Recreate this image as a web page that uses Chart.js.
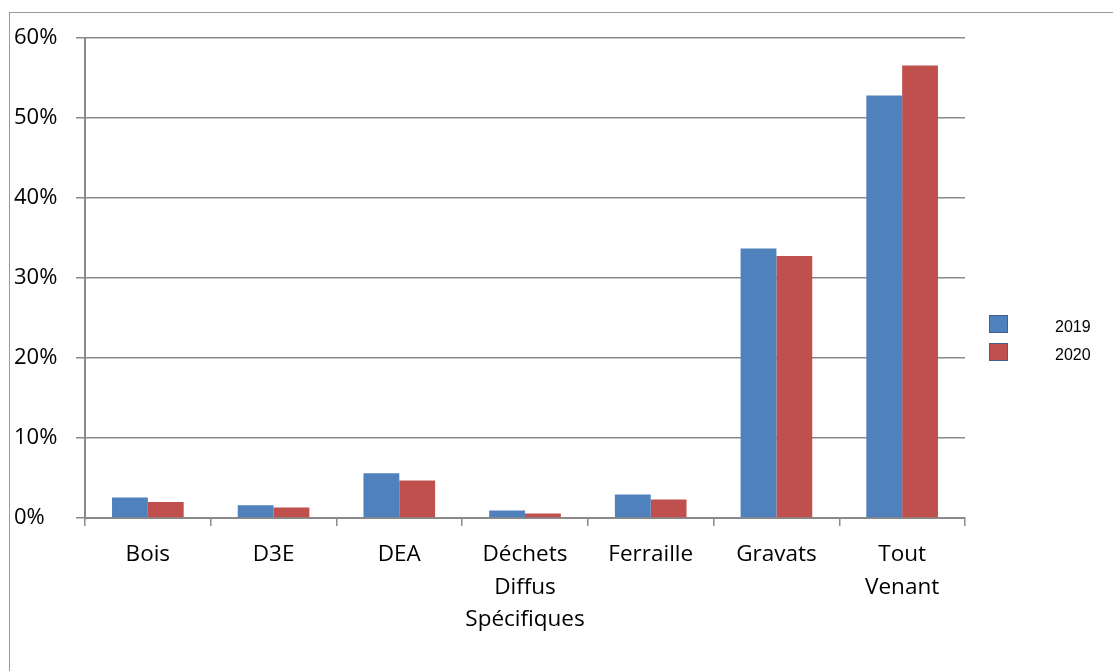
<!DOCTYPE html>
<html>
<head>
<meta charset="utf-8">
<script src="https://cdn.jsdelivr.net/npm/chart.js@4.4.1/dist/chart.umd.min.js"></script>
<style>
    html, body { margin: 0; padding: 0; background: #fff; overflow: hidden; }
    #frame { position: absolute; left: 9px; top: 12px; width: 1200px; height: 800px;
             border-left: 1px solid #999; border-top: 1px solid #999; }
    #wrap { position: absolute; left: 0; top: 0; width: 1113px; height: 671px; }
</style>
</head>
<body>
<div id="frame"></div>
<div id="wrap"><canvas id="chart"></canvas></div>
<script>
const categories = ['Bois', 'D3E', 'DEA', ['Déchets', 'Diffus', 'Spécifiques'], 'Ferraille', 'Gravats', ['Tout', 'Venant']];
const seriesNames = ['2019', '2020'];
const values2019 = [2.55, 1.6, 5.6, 0.95, 2.95, 33.7, 52.8];
const values2020 = [2.0, 1.3, 4.7, 0.55, 2.3, 32.75, 56.55];
const yTicks = [0, 10, 20, 30, 40, 50, 60];

const sideLegend = {
    id: 'sideLegend',
    afterDraw(chart) {
        const ctx = chart.ctx;
        const area = chart.chartArea;
        const x = area.right + 24;
        ctx.save();
        chart.data.datasets.forEach((ds, i) => {
            const y = 315 + i * 28;
            ctx.fillStyle = ds.backgroundColor;
            ctx.fillRect(x, y, 19, 18);
            ctx.strokeStyle = '#41608f';
            ctx.lineWidth = 1;
            ctx.strokeRect(x + 0.5, y + 0.5, 18, 17);
            ctx.fillStyle = '#000';
            ctx.font = '16px "Liberation Sans", Arial, sans-serif';
            ctx.textBaseline = 'alphabetic';
            ctx.fillText(ds.label, x + 66, y + 17);
        });
        ctx.restore();
    }
};

const ctx = document.getElementById('chart').getContext('2d');
new Chart(ctx, {
    type: 'bar',
    data: {
        labels: categories,
        datasets: [
            { label: seriesNames[0], data: values2019, backgroundColor: '#4f81bd' },
            { label: seriesNames[1], data: values2020, backgroundColor: '#c0504d' }
        ]
    },
    options: {
        responsive: true,
        maintainAspectRatio: false,
        animation: false,
        layout: { padding: { left: 14, top: 38, right: 148, bottom: 0 } },
        categoryPercentage: 0.57,
        barPercentage: 1.0,
        plugins: {
            legend: { display: false },
            tooltip: { enabled: false }
        },
        scales: {
            x: {
                grid: { display: true, drawOnChartArea: false, drawTicks: true, tickLength: 8, color: '#8a8a8a', lineWidth: 1.5, offset: true },
                border: { display: true, color: '#8a8a8a', width: 2 },
                ticks: {
                    color: '#000',
                    padding: 13,
                    maxRotation: 0,
                    autoSkip: false,
                    font: { family: '"Open Sans", sans-serif', size: 22.5, lineHeight: 1.43 }
                },
                afterFit: (scale) => { scale.height = 671 - 518; }
            },
            y: {
                min: 0,
                max: 60,
                afterBuildTicks: (scale) => { scale.ticks = yTicks.map(v => ({ value: v })); },
                grid: { color: '#8a8a8a', lineWidth: 1.5, drawTicks: true, tickLength: 9 },
                border: { display: true, color: '#8a8a8a', width: 2 },
                ticks: {
                    color: '#000',
                    crossAlign: 'far',
                    callback: (v) => v + '%',
                    font: { family: '"Open Sans", sans-serif', size: 22 }
                },
                afterFit: (scale) => { scale.width = 71; }
            }
        }
    },
    plugins: [sideLegend]
});
</script>
</body>
</html>
